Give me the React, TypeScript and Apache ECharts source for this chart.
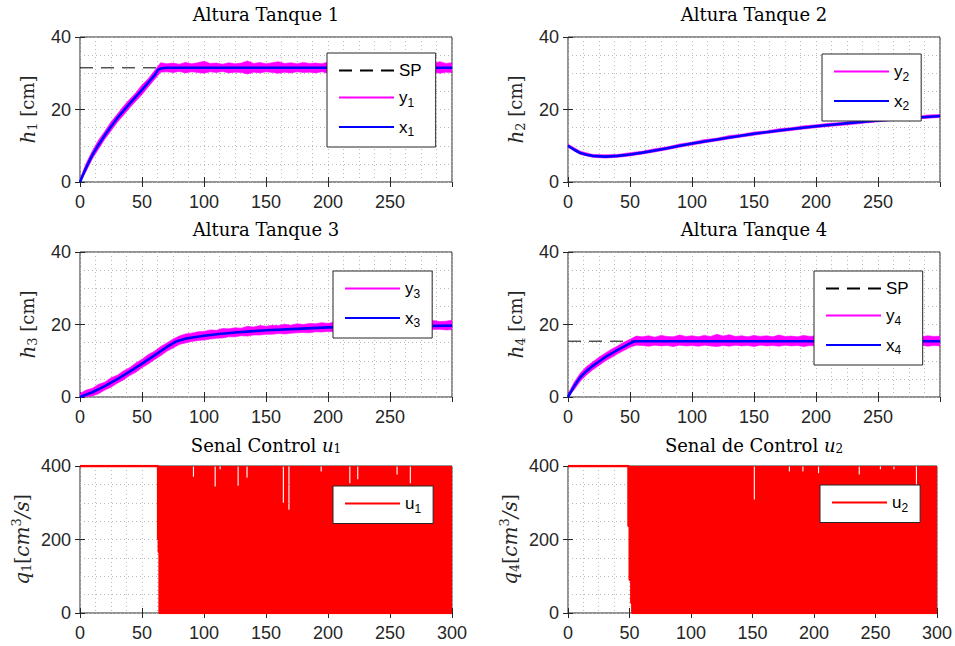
import { useEffect, useRef } from 'react';
import * as echarts from 'echarts';

// ---------- data ----------
const X_TICKS = [0, 50, 100, 150, 200, 250, 300];
const SP1 = 31.5;
const SP4 = 15.4;

const x1T = [0, 5, 10, 15, 20, 25, 30, 40, 50, 60, 63, 66, 70, 300];
const x1V = [0, 4, 7.5, 10.3, 12.9, 15.3, 17.6, 21.6, 25.4, 29.4, 31.0, 31.4, 31.5, 31.5];

const x2T = [0, 5, 10, 15, 20, 30, 40, 50, 60, 70, 80, 90, 100, 125, 150, 175, 200, 225, 250, 275, 300];
const x2V = [10, 8.9, 8.0, 7.5, 7.2, 7.0, 7.2, 7.6, 8.1, 8.7, 9.3, 10.0, 10.6, 12.0, 13.3, 14.4, 15.4, 16.2, 17.0, 17.6, 18.2];

const x3T = [0, 10, 20, 30, 40, 50, 60, 70, 78, 85, 92, 100, 112, 125, 137, 150, 175, 200, 225, 250, 275, 300];
const x3V = [0, 1.3, 3, 4.9, 7, 9.2, 11.5, 13.8, 15.4, 16.1, 16.5, 16.9, 17.4, 17.8, 18.1, 18.4, 18.8, 19.2, 19.4, 19.5, 19.6, 19.7];

const x4T = [0, 5, 10, 15, 20, 25, 30, 35, 40, 45, 50, 53, 56, 300];
const x4V = [0, 3, 5.5, 7.2, 8.6, 9.8, 11, 12, 13, 13.9, 14.8, 15.3, 15.4, 15.4];

// measured-signal envelopes (sampled every 5 s, panel 2 every 10 s)
const band5T = Array.from({ length: 61 }, (_, i) => i * 5);
const band10T = Array.from({ length: 31 }, (_, i) => i * 10);

const y1Up = [
  0.8, 5.2, 8.6, 11.6, 14.0, 16.6, 18.7, 20.9, 22.8, 24.6,
  26.8, 28.5, 30.7, 32.9, 32.6, 32.8, 32.5, 33.0, 32.6, 32.9,
  33.3, 32.7, 32.8, 32.5, 32.9, 32.6, 32.8, 33.4, 32.7, 33.0,
  32.6, 32.9, 33.2, 32.7, 32.9, 32.6, 33.0, 32.7, 32.8, 32.6,
  33.1, 32.7, 32.9, 32.6, 33.0, 32.7, 32.8, 32.5, 33.1, 32.7,
  32.9, 32.6, 33.0, 32.7, 32.9, 32.6, 33.0, 32.7, 33.2, 32.7,
  32.9,
];
const y1Lo = [
  0, 3.0, 6.4, 9.1, 11.8, 14.1, 16.4, 18.4, 20.4, 22.3,
  24.1, 26.2, 28.2, 30.3, 30.4, 30.2, 30.5, 30.1, 30.4, 30.2,
  30.0, 30.4, 30.2, 30.5, 30.1, 30.3, 30.2, 29.8, 30.3, 30.1,
  30.4, 30.2, 30.0, 30.3, 30.1, 30.4, 30.2, 30.3, 30.1, 30.4,
  30.0, 30.3, 30.2, 30.4, 30.1, 30.3, 30.2, 30.4, 30.0, 30.3,
  30.2, 30.4, 30.1, 30.3, 30.2, 30.4, 30.1, 30.3, 30.0, 30.3,
  30.2,
];

const y2Up = [
  10.4, 8.5, 7.6, 7.5, 7.6, 8.1, 8.5, 9.2, 9.7, 10.5,
  11.0, 11.7, 12.1, 12.8, 13.2, 13.8, 14.1, 14.7, 15.0, 15.5,
  15.8, 16.2, 16.4, 16.8, 17.0, 17.5, 17.6, 18.0, 18.1, 18.5,
  18.6,
];
const y2Lo = [
  9.6, 7.6, 6.8, 6.6, 6.8, 7.2, 7.7, 8.3, 8.9, 9.6,
  10.2, 10.8, 11.3, 11.9, 12.4, 12.9, 13.4, 13.8, 14.2, 14.6,
  15.0, 15.3, 15.6, 15.9, 16.3, 16.6, 16.9, 17.1, 17.4, 17.6,
  17.8,
];

const y3Up = [
  1.0, 1.9, 2.4, 3.5, 4.1, 5.3, 6.0, 7.2, 8.1, 9.4,
  10.4, 11.7, 12.6, 13.9, 14.9, 16.0, 16.8, 17.4, 17.6, 18.0,
  18.1, 18.5, 18.4, 18.9, 18.8, 19.1, 19.0, 19.5, 19.3, 19.7,
  19.5, 19.8, 19.7, 20.1, 19.8, 20.2, 20.0, 20.3, 20.2, 20.5,
  20.3, 20.7, 20.4, 20.6, 20.5, 20.9, 20.6, 20.8, 20.7, 21.0,
  20.6, 20.9, 20.7, 21.0, 20.8, 20.9, 20.7, 21.1, 20.8, 20.9,
  21.2,
];
const y3Lo = [
  0, 0, 0.3, 0.9, 1.9, 2.7, 3.8, 4.7, 5.9, 6.8,
  8.1, 9.1, 10.3, 11.4, 12.6, 13.5, 14.5, 14.9, 15.3, 15.6,
  15.7, 16.0, 16.2, 16.3, 16.6, 16.6, 16.9, 16.8, 17.1, 17.1,
  17.3, 17.3, 17.5, 17.4, 17.6, 17.7, 17.8, 17.7, 18.0, 17.9,
  18.1, 18.0, 18.2, 18.1, 18.3, 18.2, 18.4, 18.3, 18.4, 18.5,
  18.4, 18.6, 18.4, 18.6, 18.5, 18.7, 18.5, 18.6, 18.7, 18.5,
  18.6,
];

const y4Up = [
  0.8, 4.1, 6.6, 8.4, 9.7, 11.0, 12.1, 13.2, 14.1, 15.1,
  15.9, 16.8, 16.6, 16.9, 16.5, 17.0, 16.7, 16.6, 17.1, 16.7,
  16.9, 16.6, 17.0, 16.7, 17.3, 16.8, 17.2, 16.7, 16.9, 16.6,
  17.0, 16.7, 16.9, 16.6, 17.1, 16.7, 16.8, 16.6, 17.0, 16.7,
  16.9, 16.6, 17.0, 16.7, 16.9, 16.6, 17.1, 16.7, 16.8, 16.6,
  16.9, 16.7, 17.0, 16.6, 16.9, 16.7, 16.8, 16.6, 16.9, 16.7,
  16.8,
];
const y4Lo = [
  0, 2.0, 4.4, 6.1, 7.5, 8.7, 9.9, 10.9, 11.9, 12.8,
  13.7, 14.3, 14.2, 14.0, 14.3, 14.1, 14.2, 13.9, 14.3, 14.1,
  14.2, 14.0, 14.3, 14.1, 13.9, 14.2, 14.0, 14.3, 14.1, 14.2,
  13.9, 14.3, 14.1, 14.2, 14.0, 14.3, 14.1, 14.2, 13.9, 14.2,
  14.1, 14.3, 14.0, 14.2, 14.1, 14.3, 13.9, 14.2, 14.1, 14.3,
  14.0, 14.2, 14.1, 14.3, 14.0, 14.2, 14.1, 14.3, 14.0, 14.2,
  14.1,
];

// control signals: lower envelope steps, upper envelope 400 with notches
const U_MAX = 400;
const u1LoT = [0, 63, 63.6, 64.2];
const u1LoV = [400, 200, 165, 0];
const u1NotchT = [91.5, 109, 113, 127.5, 134.7, 164, 168.5, 194.5, 217.6, 224, 255.7, 266.4];
const u1NotchV = [371, 344, 391, 346, 368, 300, 281, 385, 353, 364, 377, 353];

const u2LoT = [0, 49.2, 50.2, 51.5, 52.3];
const u2LoV = [400, 237, 90, 27, 0];
const u2NotchT = [151.5, 180, 191, 203.7, 236.8, 254, 265, 283.3];
const u2NotchV = [309, 385, 385, 380, 377, 391, 391, 348];

// ---------- styling ----------
const MAG = '#ff00ff';
const BLUE = '#0000ff';
const RED = '#ff0000';
const AX = '#262626';
const GRIDC = '#b8b8b8';
const SANS = 'Liberation Sans';
const SERIF = 'DejaVu Serif';

const GRIDS = [
  { left: 80, top: 37, width: 372, height: 145 },
  { left: 568, top: 37, width: 372, height: 145 },
  { left: 80, top: 252, width: 372, height: 145 },
  { left: 568, top: 252, width: 372, height: 145 },
  { left: 80, top: 466, width: 372, height: 147 },
  { left: 568, top: 466, width: 372, height: 147 },
];

function xAxes(gi: number, max: number, showMax: boolean) {
  return [
    {
      gridIndex: gi, type: 'value', min: 0, max, interval: 50, position: 'bottom',
      axisLine: { show: false },
      axisTick: { show: true, inside: true, length: 5, lineStyle: { color: AX } },
      axisLabel: {
        margin: 11, fontSize: 18, color: AX, fontFamily: SANS, showMaxLabel: showMax,
        formatter: (v: number) => (X_TICKS.includes(v) ? String(v) : ''),
      },
      splitLine: { show: true, lineStyle: { type: [1, 3], color: GRIDC } },
      minorTick: { show: false, splitNumber: 4 },
      minorSplitLine: { show: true, lineStyle: { type: [1, 3], color: GRIDC } },
    },
    {
      gridIndex: gi, type: 'value', min: 0, max, interval: 50, position: 'top',
      axisLine: { show: false },
      axisTick: { show: true, inside: true, length: 5, lineStyle: { color: AX } },
      axisLabel: { show: false },
      splitLine: { show: false },
    },
  ];
}

const nameRich = {
  i: { fontStyle: 'italic', fontFamily: SERIF, fontSize: 20, color: AX },
  s: { fontFamily: SERIF, fontSize: 13, padding: [10, 0, 0, 0], color: AX },
  p: { fontFamily: SERIF, fontSize: 13, padding: [0, 0, 10, 0], color: AX },
};

function yAxes(gi: number, max: number, interval: number, name: string, gap: number) {
  return [
    {
      gridIndex: gi, type: 'value', min: 0, max, interval, position: 'left',
      name, nameLocation: 'middle', nameRotate: 90, nameGap: gap,
      nameTextStyle: { fontFamily: SERIF, fontSize: 18, color: AX, rich: nameRich },
      axisLine: { show: false },
      axisTick: { show: true, inside: true, length: 5, lineStyle: { color: AX } },
      axisLabel: { margin: 9, fontSize: 18, color: AX, fontFamily: SANS },
      splitLine: { show: true, lineStyle: { type: [1, 3], color: GRIDC } },
      minorTick: { show: false, splitNumber: 4 },
      minorSplitLine: { show: true, lineStyle: { type: [1, 3], color: GRIDC } },
    },
    {
      gridIndex: gi, type: 'value', min: 0, max, interval, position: 'right',
      axisLine: { show: false },
      axisTick: { show: true, inside: true, length: 5, lineStyle: { color: AX } },
      axisLabel: { show: false },
      splitLine: { show: false },
    },
  ];
}

const ax = (gi: number) => ({ xAxisIndex: 2 * gi, yAxisIndex: 2 * gi });

// filled region between a lower and an upper envelope, mapped through the axes
function bandSeries(gi: number, name: string, T: number[], lo: number[], up: number[], color: string, stroke: number) {
  return {
    type: 'custom', name, ...ax(gi), silent: true, clip: true,
    data: [[T[0], lo[0]]],
    encode: { x: 0, y: 1 },
    renderItem: (_params: any, api: any) => {
      const pts: number[][] = [];
      for (let i = 0; i < T.length; i++) pts.push(api.coord([T[i], up[i]]));
      for (let i = T.length - 1; i >= 0; i--) pts.push(api.coord([T[i], lo[i]]));
      return {
        type: 'polygon',
        shape: { points: pts },
        style: { fill: color, stroke: stroke > 0 ? color : 'none', lineWidth: stroke },
      };
    },
  };
}

function lineSeries(gi: number, name: string, T: number[], V: number[]) {
  return {
    type: 'line', name, ...ax(gi), data: T.map((t, i) => [t, V[i]]), symbol: 'none',
    lineStyle: { color: BLUE, width: 2.6 }, itemStyle: { color: BLUE },
  };
}

function spSeries(gi: number, name: string, v: number) {
  return {
    type: 'line', name, ...ax(gi), data: [[0, v], [300, v]], symbol: 'none',
    lineStyle: { color: '#000', width: 1, type: [13, 8] }, itemStyle: { color: '#000' },
  };
}

function legendDummy(gi: number, name: string) {
  return {
    type: 'line', name, ...ax(gi), data: [], symbol: 'none',
    lineStyle: { color: MAG, width: 1.5 }, itemStyle: { color: MAG },
  };
}

function controlSeries(gi: number, name: string, loT: number[], loV: number[], nT: number[], nV: number[]) {
  const half = 0.45;
  const pts: number[] = [300];
  loT.forEach((t) => { pts.push(t); if (t > 0) pts.push(t - 0.001); });
  nT.forEach((c) => { pts.push(c - half, c - half + 0.001, c + half - 0.001, c + half); });
  const T = Array.from(new Set(pts)).sort((a, b) => a - b);
  const loAt = (t: number) => { let v = loV[0]; loT.forEach((s, i) => { if (t >= s) v = loV[i]; }); return v; };
  const hiAt = (t: number) => {
    let v = U_MAX;
    nT.forEach((c, i) => { if (t > c - half && t < c + half) v = nV[i]; });
    return v;
  };
  const lo = T.map(loAt);
  const hi = T.map(hiAt);
  return [
    bandSeries(gi, name + 'fill', T, lo, hi, RED, 0),
    {
      type: 'line', name, ...ax(gi), data: T.map((t, i) => [t, lo[i]]), symbol: 'none',
      lineStyle: { color: RED, width: 2.5 }, itemStyle: { color: RED },
    },
  ];
}

const legendFormatter = (name: string) => {
  if (name.startsWith('SP')) return '{n|SP}';
  return `{n|${name[0]}}{s|${name.slice(1)}}`;
};

function legend(left: number, top: number, data: string[], pad: number[]) {
  return {
    left, top, data, orient: 'vertical', selectedMode: false,
    backgroundColor: '#fff', borderColor: AX, borderWidth: 1, borderRadius: 0,
    itemWidth: 55, itemHeight: 14, itemGap: 10, padding: pad,
    itemStyle: { opacity: 0 },
    formatter: legendFormatter,
    textStyle: {
      fontFamily: SANS, fontSize: 17, color: '#000',
      rich: {
        n: { fontFamily: SANS, fontSize: 17, color: '#000' },
        s: { fontFamily: SANS, fontSize: 12, color: '#000', padding: [10, 0, 0, 0] },
      },
    },
  };
}

const titleRich = {
  i: { fontStyle: 'italic', fontWeight: 'normal', fontFamily: SERIF, fontSize: 18, color: '#000' },
  s: { fontFamily: SERIF, fontWeight: 'normal', fontSize: 12, color: '#000', padding: [8, 0, 0, 0] },
};

function title(text: string, left: number, top: number) {
  return {
    text, left, top, textAlign: 'center', padding: 0,
    textStyle: { fontFamily: SERIF, fontSize: 18, fontWeight: 'normal', color: '#000', rich: titleRich },
  };
}

function buildOption() {
  return {
    animation: false,
    backgroundColor: '#fff',
    title: [
      title('Altura Tanque 1', 266, 5),
      title('Altura Tanque 2', 754, 5),
      title('Altura Tanque 3', 266, 220),
      title('Altura Tanque 4', 754, 220),
      title('Senal Control {i|u}{s|1}', 266, 435),
      title('Senal de Control {i|u}{s|2}', 754, 435),
    ],
    grid: GRIDS.map((g) => ({ ...g, show: true, borderColor: AX, borderWidth: 1, backgroundColor: 'transparent' })),
    xAxis: [
      ...xAxes(0, 299.9, false), ...xAxes(1, 299.9, false), ...xAxes(2, 299.9, false),
      ...xAxes(3, 299.9, false), ...xAxes(4, 300, true), ...xAxes(5, 300, true),
    ],
    yAxis: [
      ...yAxes(0, 40, 20, '{i|h}{s|1} [cm]', 41),
      ...yAxes(1, 40, 20, '{i|h}{s|2} [cm]', 41),
      ...yAxes(2, 40, 20, '{i|h}{s|3} [cm]', 41),
      ...yAxes(3, 40, 20, '{i|h}{s|4} [cm]', 41),
      ...yAxes(4, 400, 200, '{i|q}{s|1}[{i|cm}{p|3}{i|/s}]', 47),
      ...yAxes(5, 400, 200, '{i|q}{s|4}[{i|cm}{p|3}{i|/s}]', 47),
    ],
    legend: [
      legend(327, 53, ['SP1', 'y1', 'x1'], [9, 14, 9, 11]),
      legend(822, 54, ['y2', 'x2'], [9, 12, 9, 11]),
      legend(333, 271, ['y3', 'x3'], [9, 12, 9, 11]),
      legend(814, 271, ['SP4', 'y4', 'x4'], [9, 14, 9, 11]),
      legend(333, 486, ['u1'], [9, 12, 9, 11]),
      legend(820, 485, ['u2'], [9, 12, 9, 11]),
    ],
    series: [
      spSeries(0, 'SP1', SP1),
      bandSeries(0, 'y1band', band5T, y1Lo, y1Up, MAG, 0.6),
      legendDummy(0, 'y1'),
      lineSeries(0, 'x1', x1T, x1V),

      bandSeries(1, 'y2band', band10T, y2Lo, y2Up, MAG, 0.6),
      legendDummy(1, 'y2'),
      lineSeries(1, 'x2', x2T, x2V),

      bandSeries(2, 'y3band', band5T, y3Lo, y3Up, MAG, 0.6),
      legendDummy(2, 'y3'),
      lineSeries(2, 'x3', x3T, x3V),

      spSeries(3, 'SP4', SP4),
      bandSeries(3, 'y4band', band5T, y4Lo, y4Up, MAG, 0.6),
      legendDummy(3, 'y4'),
      lineSeries(3, 'x4', x4T, x4V),

      ...controlSeries(4, 'u1', u1LoT, u1LoV, u1NotchT, u1NotchV),
      ...controlSeries(5, 'u2', u2LoT, u2LoV, u2NotchT, u2NotchV),
    ],
  };
}

export default function App() {
  const ref = useRef<HTMLDivElement>(null);
  useEffect(() => {
    if (!ref.current) return;
    const chart = echarts.init(ref.current, null, { renderer: 'svg' });
    chart.setOption(buildOption() as any);
    return () => chart.dispose();
  }, []);
  return (
    <div
      ref={ref}
      style={{ position: 'absolute', left: 0, top: 0, width: 955, height: 646, background: '#fff' }}
    />
  );
}
